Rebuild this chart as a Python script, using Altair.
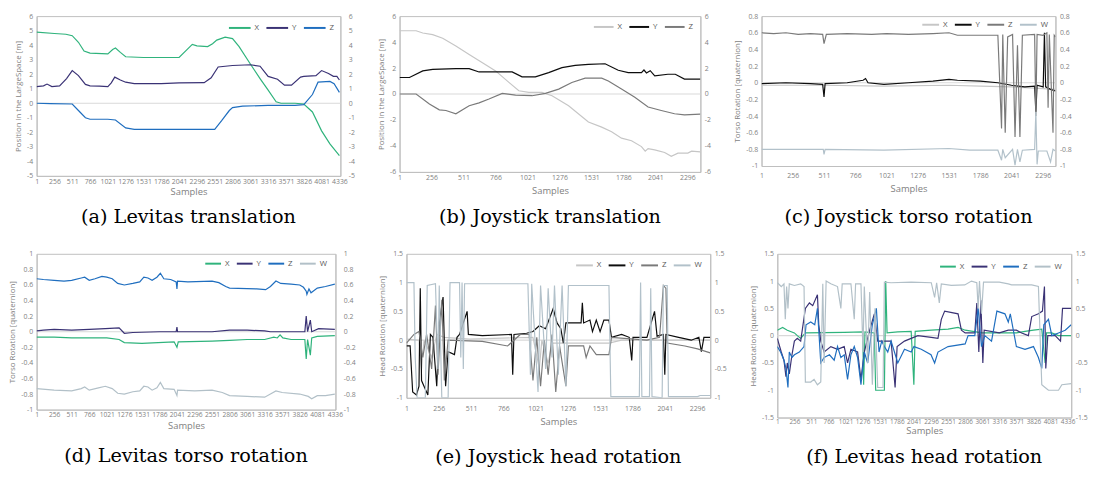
import altair as alt
import pandas as pd

NAMES3 = ["X", "Y", "Z"]
NAMES4 = ["X", "Y", "Z", "W"]
LEV_COLORS = ["#2fb37c", "#3a3275", "#1f6ebf", "#b2c0c8"]
JOY_COLORS = ["#c6c6c6", "#0d0d0d", "#7a7a7a", "#b2c1ca"]

XT_LEV = [1, 256, 511, 766, 1021, 1276, 1531, 1786, 2041, 2296, 2551, 2806, 3061, 3316, 3571, 3826, 4081, 4336]
XT_JOY = [1, 256, 511, 766, 1021, 1276, 1531, 1786, 2041, 2296]

# (a) Levitas translation
A_X = [(1, 4.9), (256, 4.8), (420, 4.75), (511, 4.65), (600, 4.2), (680, 3.6), (766, 3.45), (1021, 3.4),
       (1090, 3.7), (1130, 3.8), (1200, 3.5), (1276, 3.2), (1531, 3.15), (2041, 3.15), (2230, 4.05), (2296, 3.95),
       (2450, 3.9), (2520, 4.1), (2580, 4.35), (2700, 4.55), (2806, 4.45), (2900, 3.9), (3061, 2.7), (3200, 1.7),
       (3316, 0.9), (3430, 0.1), (3500, 0.0), (3700, 0.0), (3826, -0.05), (3950, -0.6), (4081, -1.9), (4200, -2.8),
       (4336, -3.6)]
A_Y = [(1, 1.15), (100, 1.2), (150, 1.32), (220, 1.15), (330, 1.2), (430, 1.7), (511, 2.25), (600, 1.9), (700, 1.3),
       (766, 1.2), (900, 1.18), (1021, 1.15), (1070, 1.4), (1120, 1.8), (1200, 1.6), (1276, 1.45), (1400, 1.35),
       (1786, 1.35), (2041, 1.4), (2400, 1.42), (2500, 1.75), (2600, 2.5), (2806, 2.6), (3061, 2.65), (3200, 2.55),
       (3316, 1.85), (3450, 1.65), (3550, 1.25), (3650, 1.25), (3780, 1.8), (3826, 1.85), (4000, 1.9), (4081, 2.25),
       (4180, 2.05), (4250, 1.85), (4300, 1.85), (4336, 1.6)]
A_Z = [(1, 0.0), (200, -0.02), (511, -0.05), (600, -0.5), (700, -1.0), (766, -1.1), (1021, -1.1), (1130, -1.15),
       (1276, -1.7), (1400, -1.8), (2551, -1.8), (2650, -1.2), (2760, -0.5), (2806, -0.3), (2950, -0.2), (3316, -0.15),
       (3700, -0.15), (3826, -0.1), (3950, 0.6), (4030, 1.45), (4200, 1.5), (4260, 1.35), (4336, 0.75)]

# (b) Joystick translation
B_X = [(1, 4.87), (133, 4.87), (186, 4.7), (265, 4.57), (345, 4.3), (450, 3.7), (556, 3.05), (662, 2.4), (767, 1.78),
       (873, 0.9), (952, 0.25), (1032, 0.13), (1137, 0.13), (1217, -0.13), (1349, -0.9), (1507, -2.15), (1613, -2.55),
       (1692, -2.9), (1771, -3.4), (1851, -3.6), (1930, -4.05), (1960, -4.4), (1983, -4.2), (2036, -4.3), (2115, -4.5),
       (2168, -4.8), (2221, -4.55), (2300, -4.55), (2330, -4.4), (2400, -4.45)]
B_Y = [(1, 1.27), (80, 1.27), (186, 1.78), (265, 1.9), (450, 1.95), (556, 1.95), (635, 1.7), (899, 1.7), (978, 1.32),
       (1084, 1.32), (1190, 1.65), (1296, 2.03), (1402, 2.2), (1507, 2.28), (1640, 2.33), (1745, 1.83), (1824, 1.65),
       (1930, 1.65), (1950, 1.85), (1970, 1.62), (2000, 1.8), (2036, 1.4), (2141, 1.52), (2200, 1.52), (2273, 1.15),
       (2400, 1.15)]
B_Z = [(1, 0.0), (133, 0.0), (239, -0.76), (318, -1.22), (371, -1.27), (450, -1.52), (556, -0.9), (635, -0.68),
       (714, -0.38), (820, 0.05), (926, -0.08), (1058, -0.13), (1164, 0.05), (1270, 0.38), (1375, 0.89), (1481, 1.22),
       (1613, 1.22), (1666, 1.0), (1771, 0.38), (1877, -0.25), (1983, -1.0), (2088, -1.27), (2194, -1.52),
       (2273, -1.6), (2400, -1.55)]

# (c) Joystick torso rotation
C_X = [(1, -0.03), (500, -0.03), (1000, -0.04), (1531, -0.03), (1786, -0.04), (2041, -0.05), (2296, -0.07),
       (2400, -0.08)]
C_Y = [(1, -0.01), (200, 0.0), (400, -0.01), (500, -0.02), (511, -0.17), (520, -0.01), (700, 0.0), (830, 0.03),
       (850, 0.05), (870, 0.0), (1000, -0.02), (1200, 0.0), (1400, 0.02), (1531, 0.04), (1600, 0.03), (1786, 0.02),
       (1930, 0.0), (2041, -0.03), (2150, -0.05), (2230, -0.04), (2240, -0.35), (2250, -0.03), (2300, -0.05),
       (2310, 0.6), (2320, -0.05), (2360, -0.08), (2400, -0.1)]
C_Z = [(1, 0.6), (100, 0.59), (200, 0.6), (300, 0.58), (400, 0.59), (500, 0.58), (511, 0.47), (530, 0.58),
       (700, 0.59), (900, 0.58), (1021, 0.59), (1200, 0.58), (1400, 0.59), (1531, 0.6), (1600, 0.57), (1930, 0.57),
       (1960, -0.55), (1970, 0.58), (1990, -0.6), (2010, 0.55), (2050, 0.58), (2070, -0.65), (2090, 0.45),
       (2110, -0.65), (2130, 0.57), (2230, 0.58), (2240, -0.4), (2250, 0.58), (2300, 0.57), (2330, 0.6),
       (2340, -0.3), (2350, 0.58), (2380, -0.6), (2390, 0.57), (2400, 0.55)]
C_W = [(1, -0.8), (200, -0.8), (505, -0.8), (511, -0.86), (520, -0.8), (1000, -0.81), (1531, -0.79), (1700, -0.81),
       (1930, -0.81), (1960, -0.93), (1970, -0.8), (1990, -0.9), (2050, -0.8), (2070, -0.99), (2090, -0.8),
       (2110, -0.95), (2130, -0.81), (2230, -0.8), (2240, -0.35), (2250, -0.98), (2260, -0.82), (2330, -0.82),
       (2360, -0.95), (2380, -0.8), (2400, -0.82)]

# (d) Levitas torso rotation
D_X = [(1, -0.07), (256, -0.07), (511, -0.08), (1021, -0.08), (1200, -0.1), (1276, -0.14), (1531, -0.15),
       (2000, -0.13), (2041, -0.2), (2060, -0.13), (2551, -0.12), (2806, -0.11), (3061, -0.1), (3316, -0.1),
       (3450, -0.07), (3500, -0.08), (3540, -0.04), (3580, -0.08), (3700, -0.1), (3900, -0.1), (3920, -0.35),
       (3940, -0.1), (3980, -0.3), (4000, -0.08), (4081, -0.06), (4336, -0.05)]
D_Y = [(1, 0.01), (100, 0.02), (256, 0.03), (511, 0.02), (766, 0.03), (1000, 0.04), (1200, 0.05), (1276, -0.02),
       (1400, -0.01), (1786, 0.0), (2030, 0.0), (2041, 0.06), (2050, 0.0), (2551, 0.0), (2806, 0.02), (3061, 0.02),
       (3316, 0.01), (3400, 0.0), (3900, 0.0), (3920, 0.2), (3940, 0.0), (3980, 0.15), (4000, 0.0), (4100, 0.04),
       (4336, 0.03)]
D_Z = [(1, 0.68), (100, 0.67), (256, 0.66), (400, 0.65), (511, 0.66), (650, 0.69), (700, 0.7), (766, 0.66),
       (850, 0.68), (950, 0.71), (1021, 0.7), (1100, 0.68), (1180, 0.62), (1276, 0.6), (1400, 0.62), (1500, 0.64),
       (1560, 0.7), (1620, 0.69), (1680, 0.66), (1750, 0.7), (1800, 0.75), (1850, 0.68), (1950, 0.67), (2030, 0.64),
       (2041, 0.55), (2050, 0.65), (2200, 0.64), (2551, 0.65), (2650, 0.63), (2750, 0.58), (2806, 0.56),
       (3200, 0.55), (3330, 0.54), (3400, 0.58), (3480, 0.65), (3550, 0.62), (3700, 0.61), (3826, 0.6),
       (3880, 0.57), (3920, 0.52), (3930, 0.48), (3960, 0.55), (3990, 0.5), (4081, 0.56), (4200, 0.58), (4336, 0.61)]
D_W = [(1, -0.73), (256, -0.75), (511, -0.76), (650, -0.73), (700, -0.71), (766, -0.75), (900, -0.72),
       (1000, -0.7), (1100, -0.73), (1180, -0.79), (1276, -0.8), (1400, -0.77), (1500, -0.76), (1560, -0.7),
       (1620, -0.71), (1680, -0.75), (1750, -0.72), (1800, -0.65), (1850, -0.73), (2000, -0.74), (2041, -0.82),
       (2050, -0.75), (2300, -0.76), (2551, -0.75), (2700, -0.78), (2806, -0.82), (3061, -0.83), (3316, -0.84),
       (3400, -0.8), (3480, -0.76), (3571, -0.78), (3826, -0.8), (3950, -0.83), (4000, -0.86), (4081, -0.82),
       (4200, -0.82), (4336, -0.8)]

# (e) Joystick head rotation
E_X = [(1, 0.02), (100, 0.0), (120, -0.5), (140, 0.0), (200, -0.3), (240, 0.1), (300, 0.05), (500, 0.02),
       (1000, 0.05), (1050, -0.5), (1070, 0.0), (1120, -0.4), (1150, -0.05), (1600, -0.05), (1700, 0.0), (2400, 0.0)]
E_Y = [(1, -0.1), (30, -0.1), (50, -0.9), (80, -0.95), (100, -0.8), (110, 0.9), (120, -0.7), (150, -0.85),
       (170, -0.95), (190, 0.1), (210, 0.05), (240, -0.8), (260, 0.3), (290, 0.75), (310, -0.8), (330, -0.2),
       (380, -0.25), (400, 0.05), (420, 0.1), (480, 0.5), (490, 0.1), (600, 0.08), (830, 0.1), (840, -0.6),
       (850, 0.1), (950, 0.12), (1000, 0.15), (1050, 0.25), (1100, 0.2), (1160, 0.55), (1190, 0.3), (1220, 0.2),
       (1240, -0.05), (1260, 0.3), (1380, 0.3), (1390, 0.65), (1400, 0.3), (1450, 0.35), (1470, 0.15), (1500, 0.35),
       (1530, 0.15), (1560, 0.35), (1600, 0.35), (1620, 0.05), (1700, 0.1), (1760, 0.05), (1780, -0.35),
       (1790, 0.05), (1900, 0.05), (1960, 0.5), (1980, 0.07), (2030, 0.1), (2041, -0.6), (2050, 0.1), (2150, 0.05),
       (2250, 0.0), (2310, 0.05), (2330, -0.2), (2350, 0.05), (2400, 0.05)]
E_Z = [(1, -0.05), (60, 0.1), (100, 0.15), (130, -0.3), (160, 0.1), (200, -0.5), (230, 0.6), (250, -0.6),
       (280, 0.7), (300, -0.7), (330, 0.0), (600, -0.02), (800, -0.1), (900, 0.1), (970, 0.1), (1000, -0.7),
       (1030, 0.05), (1060, -0.8), (1090, 0.0), (1120, -0.6), (1150, 0.1), (1180, -0.9), (1210, -0.1), (1260, -0.8),
       (1280, -0.1), (1400, -0.1), (1420, -0.3), (1450, -0.1), (1500, -0.25), (1600, -0.25), (1620, 0.05),
       (1900, 0.0), (2000, 0.05), (2030, 0.95), (2050, 0.9), (2060, -0.05), (2200, -0.1), (2300, -0.15),
       (2400, -0.22)]
E_W = [(1, 1.0), (60, 1.0), (70, -0.3), (85, -1.0), (150, -1.0), (165, 0.95), (230, 0.98), (250, -0.5),
       (260, 0.95), (280, -1.0), (330, -1.0), (345, 1.0), (420, 1.0), (430, -0.3), (440, 1.0), (450, -0.5),
       (460, 0.98), (960, 0.98), (980, -0.6), (990, 0.98), (1040, -0.9), (1060, 0.95), (1100, -0.5), (1120, 0.9),
       (1150, -0.3), (1170, 0.95), (1200, -0.6), (1230, 0.95), (1260, -0.8), (1280, 0.95), (1600, 0.95),
       (1615, -0.98), (1840, -0.98), (1850, 1.0), (1860, -0.98), (1920, -0.98), (1930, 0.9), (1940, -0.98),
       (2020, -1.0), (2030, 0.95), (2060, 0.95), (2070, -0.98), (2300, -0.98), (2320, -0.96), (2400, -0.96)]

# (f) Levitas head rotation
F_X = [(1, 0.1), (80, 0.15), (150, 0.1), (256, 0.05), (300, 0.0), (350, -0.05), (420, 0.05), (1000, 0.06),
       (1276, 0.07), (1290, -0.9), (1310, 0.07), (1450, 0.05), (1470, -1.0), (1600, -1.0), (1620, 1.0), (1640, 0.05),
       (1800, 0.07), (2000, 0.08), (2040, -0.9), (2060, 0.08), (2300, 0.1), (2551, 0.12), (2700, 0.15), (2806, 0.1),
       (3061, 0.05), (3571, 0.05), (3700, 0.08), (3826, 0.1), (3950, 0.12), (4000, -0.5), (4020, 0.05), (4100, 0.05),
       (4200, 0.0), (4390, 0.0)]
F_Y = [(1, -0.05), (60, -0.3), (100, -0.45), (130, -0.75), (150, -0.5), (180, -0.7), (220, -0.35), (256, -0.1),
       (300, -0.05), (350, -0.1), (420, 0.5), (480, 0.6), (530, 0.55), (600, 0.75), (620, 0.2), (650, -0.1),
       (700, -0.3), (800, -0.2), (900, -0.25), (1000, -0.2), (1050, -0.5), (1100, -0.25), (1200, -0.3), (1250, -0.8),
       (1300, -0.3), (1380, 0.1), (1450, 0.4), (1500, -0.1), (1700, -0.1), (1760, -0.95), (1790, -0.2),
       (1900, -0.1), (2000, -0.05), (2100, 0.0), (2300, -0.03), (2400, -0.05), (2450, 0.3), (2500, 0.45),
       (2700, 0.4), (2750, 0.1), (2806, 0.05), (2950, 0.05), (2980, 0.6), (3010, -0.3), (3040, 0.65), (3070, -0.5),
       (3090, 0.1), (3316, 0.05), (3450, 0.1), (3571, 0.1), (3650, 0.05), (3750, 0.0), (3800, 0.35), (3900, 0.4),
       (3960, 0.45), (3990, 0.9), (4010, -0.6), (4040, 0.0), (4150, 0.0), (4230, -0.1), (4260, 0.5), (4390, 0.5)]
F_Z = [(1, -0.2), (50, -0.3), (100, -0.45), (130, -0.6), (160, -0.95), (180, -0.3), (220, -0.4), (256, -0.35),
       (330, -0.3), (400, -0.2), (430, 0.2), (500, 0.25), (560, 0.2), (600, 0.5), (620, 0.1), (650, -0.5),
       (700, -0.4), (780, -0.35), (850, -0.45), (900, -0.2), (950, -0.4), (1000, -0.35), (1050, -0.8),
       (1100, -0.35), (1150, -0.2), (1200, -0.4), (1250, -0.9), (1300, -0.3), (1350, -0.5), (1420, 0.2),
       (1480, 0.5), (1520, -0.3), (1560, -0.1), (1600, -0.2), (1650, -0.3), (1700, -0.1), (1800, -0.5),
       (1900, -0.25), (2000, -0.3), (2041, -0.2), (2150, -0.25), (2296, -0.35), (2350, -0.5), (2400, -0.3),
       (2551, -0.2), (2806, -0.15), (2850, 0.0), (2950, 0.0), (3000, 0.5), (3050, -0.2), (3100, 0.0), (3200, -0.1),
       (3280, 0.45), (3400, 0.4), (3450, 0.25), (3480, 0.4), (3571, -0.2), (3700, -0.25), (3826, -0.2),
       (3900, -0.4), (3950, -0.6), (3980, 0.2), (4050, 0.3), (4100, 0.0), (4200, 0.05), (4300, 0.1), (4390, 0.2)]
F_W = [(1, 0.97), (60, 0.9), (100, 0.95), (120, 0.3), (140, 0.9), (160, 0.5), (180, 0.95), (256, 0.92),
       (350, 0.95), (400, 0.9), (420, -0.85), (500, -0.85), (550, -0.8), (600, -0.9), (650, -0.85), (680, 0.95),
       (700, -0.5), (730, 1.0), (800, 0.95), (900, 0.9), (950, 0.5), (970, 0.95), (1100, 0.95), (1150, 0.3),
       (1170, 0.95), (1250, 0.95), (1280, -0.3), (1300, 0.9), (1350, -0.5), (1380, 0.8), (1420, -0.9), (1460, 0.5),
       (1500, -0.95), (1580, -0.95), (1600, 0.98), (1700, 0.97), (2000, 0.98), (2300, 0.97), (2350, 0.7),
       (2380, 0.97), (2420, 0.6), (2450, 0.95), (2600, 0.92), (2800, 0.93), (2900, 1.0), (2980, 0.97), (3000, 0.5),
       (3020, 1.0), (3050, 0.4), (3080, 0.98), (3316, 0.98), (3450, 0.95), (3500, 0.93), (3800, 0.93),
       (3900, 0.9), (3950, -0.9), (4000, -0.95), (4050, -1.0), (4200, -1.0), (4250, -0.9), (4390, -0.88)]

Y_A = [-5, -4, -3, -2, -1, 0, 1, 2, 3, 4, 5, 6]
Y_B = [-6, -4, -2, 0, 2, 4, 6]
Y_C = [-1, -0.8, -0.6, -0.4, -0.2, 0, 0.2, 0.4, 0.6, 0.8]
Y_D = [-1, -0.8, -0.6, -0.4, -0.2, 0, 0.2, 0.4, 0.6, 0.8, 1]
Y_E = [-1, -0.5, 0, 0.5, 1, 1.5]
Y_F = [-1.5, -1, -0.5, 0, 0.5, 1, 1.5]

GRAY = "#7f7f7f"
LBL = "'' + datum.value"
AX = dict(labelFont="Open Sans", labelColor=GRAY,
          titleFont="Open Sans", titleFontWeight="normal", titleColor=GRAY,
          domainColor="#bfbfbf", ticks=False, tickSize=0, grid=False,
          labelFlush=False, labelOverlap=False, labelExpr=LBL)


def panel(series, names, colors, xmax, xticks, ydom, yticks, ytitle, caption,
          w, h, legx, legy, sym, lab_pad, title_pad, cap_off, xfont=7, rpad=4):
    rows = [{"sample": s, "value": v, "series": n}
            for n, pts in zip(names, series) for s, v in pts]
    df = pd.DataFrame(rows)
    ysc = alt.Scale(domain=ydom, nice=False, zero=False)
    zero = alt.Chart(pd.DataFrame({"v": [0]})).mark_rule(color="#d9d9d9", strokeWidth=1.2).encode(
        y=alt.Y("v:Q", scale=ysc,
                axis=alt.Axis(orient="right", values=yticks, title=None, labelPadding=rpad,
                              labelFontSize=7, **AX))
    )
    lines = alt.Chart(df).mark_line(strokeWidth=1.2, clip=True).encode(
        x=alt.X("sample:Q", scale=alt.Scale(domain=[1, xmax], nice=False, zero=False),
                axis=alt.Axis(values=xticks, title="Samples", titleFontSize=9.5, labelFontSize=xfont,
                              labelPadding=lab_pad, titlePadding=title_pad, **AX)),
        y=alt.Y("value:Q", scale=ysc,
                axis=alt.Axis(orient="left", values=yticks, title=ytitle, titleFontSize=8,
                              labelFontSize=7, labelPadding=4, titlePadding=4, **AX)),
        color=alt.Color("series:N", scale=alt.Scale(domain=names, range=colors),
                        legend=alt.Legend(orient="none", legendX=legx, legendY=legy,
                                          direction="horizontal", title=None,
                                          symbolType="stroke", symbolSize=sym,
                                          symbolStrokeWidth=2, labelFontSize=8,
                                          labelColor="#595959", labelFont="Open Sans",
                                          labelOffset=3, columnPadding=3)),
        order=alt.Order("sample:Q"),
    )
    return alt.layer(zero, lines).resolve_scale(y="independent").properties(
        width=w, height=h,
        title=alt.TitleParams(text=caption, orient="bottom", anchor="middle",
                              font="DejaVu Serif", fontSize=19.5, fontWeight="normal",
                              color="black", offset=cap_off),
    )


a = panel([A_X, A_Y, A_Z], NAMES3, LEV_COLORS[:3], 4350, XT_LEV, [-5, 6], Y_A,
          "Position in the LargeSpace [m]", "(a) Levitas translation",
          308, 162, 194, 0, 484, 2, 2, 12, 7, 8)
b = panel([B_X, B_Y, B_Z], NAMES3, JOY_COLORS[:3], 2400, XT_JOY, [-6, 6], Y_B,
          "Position in the LargeSpace [m]", "(b) Joystick translation",
          305, 158, 196, 0, 400, 2, 5, 13)
c = panel([C_X, C_Y, C_Z, C_W], NAMES4, JOY_COLORS, 2400, XT_JOY, [-1, 0.8], Y_C,
          "Torso Rotation [quaternion]", "(c) Joystick torso rotation",
          298, 152, 162, -1, 289, 6, 5, 15)
d = panel([D_X, D_Y, D_Z, D_W], NAMES4, LEV_COLORS, 4345, XT_LEV, [-1, 1], Y_D,
          "Torso Rotation [quaternion]", "(d) Levitas torso rotation",
          303, 158, 170, 1, 256, 2, 2, 18, 6.8, 8)
e = panel([E_X, E_Y, E_Z, E_W], NAMES4, JOY_COLORS, 2400, XT_JOY, [-1, 1.5], Y_E,
          "Head Rotation [quaternion]", "(e) Joystick head rotation",
          308, 146, 171, 2, 289, 7, 5, 23)
f = panel([F_X, F_Y, F_Z, F_W], NAMES4, LEV_COLORS, 4390, XT_LEV, [-1.5, 1.5], Y_F,
          "Head Rotation [quaternion]", "(f) Levitas head rotation",
          298, 166, 164, 4, 256, 1, 1, 13, 6.5)

row1 = alt.hconcat(a, b, c, spacing=22).resolve_scale(color="independent", x="independent", y="independent")
row2 = alt.hconcat(d, e, f, spacing=22).resolve_scale(color="independent", x="independent", y="independent")

chart = alt.vconcat(row1, row2, spacing=22, background="white", padding=0).resolve_scale(
    color="independent", x="independent", y="independent"
).configure_view(
    stroke="#bfbfbf", strokeWidth=1
)

chart.save("out.html", embed_options={"renderer": "svg", "actions": False})
